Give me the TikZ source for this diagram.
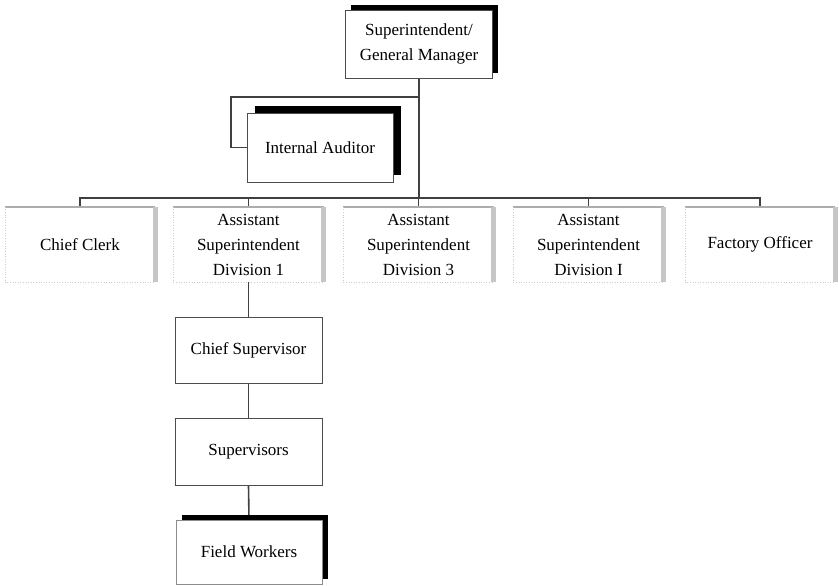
\documentclass[tikz,border=0pt]{standalone}
\usepackage{fontspec}
\setmainfont{Liberation Serif}
\usetikzlibrary{shadows}
\newcommand{\orgfont}{\fontsize{17}{25}\selectfont}
\tikzstyle{none}=[inner sep=0pt]
\tikzstyle{plainbox}=[rectangle, draw=black!70, line width=0.8pt, fill=white, inner sep=0pt, minimum width=147pt, minimum height=67pt, align=center, font=\orgfont]
\tikzstyle{link}=[-, draw=black!75, line width=1.6pt]
\tikzstyle{rowbox}=[rectangle, inner sep=0pt, minimum width=150pt, minimum height=75pt, align=center, font=\orgfont]
\tikzstyle{rowtop}=[-, draw=gray!65, line width=1.4pt]
\tikzstyle{rowside}=[-, draw=gray!45, line width=5pt]
\tikzstyle{rowfaint}=[-, draw=gray!40, dotted, line width=0.6pt]
\pgfdeclarelayer{edgelayer}
\pgfdeclarelayer{nodelayer}
\pgfsetlayers{edgelayer,nodelayer,main}
\begin{document}
\begin{tikzpicture}[x=1pt, y=-1pt]
	\useasboundingbox (0, 0) rectangle (839, 586);
	\begin{pgfonlayer}{nodelayer}
		\node [style=plainbox, minimum height=68pt, general shadow={fill=black, shadow xshift=5pt, shadow yshift=5pt}] (0) at (419, 44) {Superintendent/\\General Manager};
		\node [style=plainbox, minimum width=146pt, minimum height=69pt, general shadow={fill=black, shadow xshift=8pt, shadow yshift=7pt}] (1) at (320, 147.5) {Internal Auditor};
		\node [style=rowbox] (2) at (80, 244.5) {Chief Clerk};
		\node [style=rowbox] (3) at (248.5, 244.5) {Assistant\\Superintendent\\Division 1};
		\node [style=rowbox] (4) at (418.5, 244.5) {Assistant\\Superintendent\\Division 3};
		\node [style=rowbox] (5) at (588.5, 244.5) {Assistant\\Superintendent\\Division I};
		\node [style=rowbox] (6) at (760, 244.5) {Factory Officer};
		\node [style=plainbox, minimum height=66pt] (7) at (248.5, 350) {Chief Supervisor};
		\node [style=plainbox] (8) at (248.5, 451.5) {Supervisors};
		\node [style=plainbox, draw=black!45, minimum width=146pt, minimum height=64pt, general shadow={fill=black, shadow xshift=6pt, shadow yshift=5pt}] (9) at (249, 552) {Field Workers};
	\end{pgfonlayer}
	\coordinate (10) at (419, 198);
	\coordinate (11) at (419, 97);
	\coordinate (12) at (231, 97);
	\coordinate (13) at (231, 147.5);
	\begin{pgfonlayer}{edgelayer}
		\draw [style=link] (0.south) to (10);
		\draw [style=link] (11) -- (12) -- (13) -- (1.west);
		\draw [style=link] (2.north) |- (10) -| (6.north);
		\draw [style=link] (3.north) to (3.north |- 10);
		\draw [style=link] (4.north) to (4.north |- 10);
		\draw [style=link] (5.north) to (5.north |- 10);
		\draw [style=link] (3.south) to (7.north);
		\draw [style=link] (7.south) to (8.north);
		\draw [style=link] (8.south) to (9.north);

		% row boxes: grey top and side, faint dotted rest
		\draw [style=rowtop] (2.north west) to (2.north east);
		\draw [style=rowside] (2.north east) to (2.south east);
		\draw [style=rowfaint] (2.north west) -- (2.south west) -- (2.south east);
		\draw [style=rowtop] (3.north west) to (3.north east);
		\draw [style=rowside] (3.north east) to (3.south east);
		\draw [style=rowfaint] (3.north west) -- (3.south west) -- (3.south east);
		\draw [style=rowtop] (4.north west) to (4.north east);
		\draw [style=rowside] (4.north east) to (4.south east);
		\draw [style=rowfaint] (4.north west) -- (4.south west) -- (4.south east);
		\draw [style=rowtop] (5.north west) to (5.north east);
		\draw [style=rowside] (5.north east) to (5.south east);
		\draw [style=rowfaint] (5.north west) -- (5.south west) -- (5.south east);
		\draw [style=rowtop] (6.north west) to (6.north east);
		\draw [style=rowside] (6.north east) to (6.south east);
		\draw [style=rowfaint] (6.north west) -- (6.south west) -- (6.south east);
	\end{pgfonlayer}
\end{tikzpicture}
\end{document}
